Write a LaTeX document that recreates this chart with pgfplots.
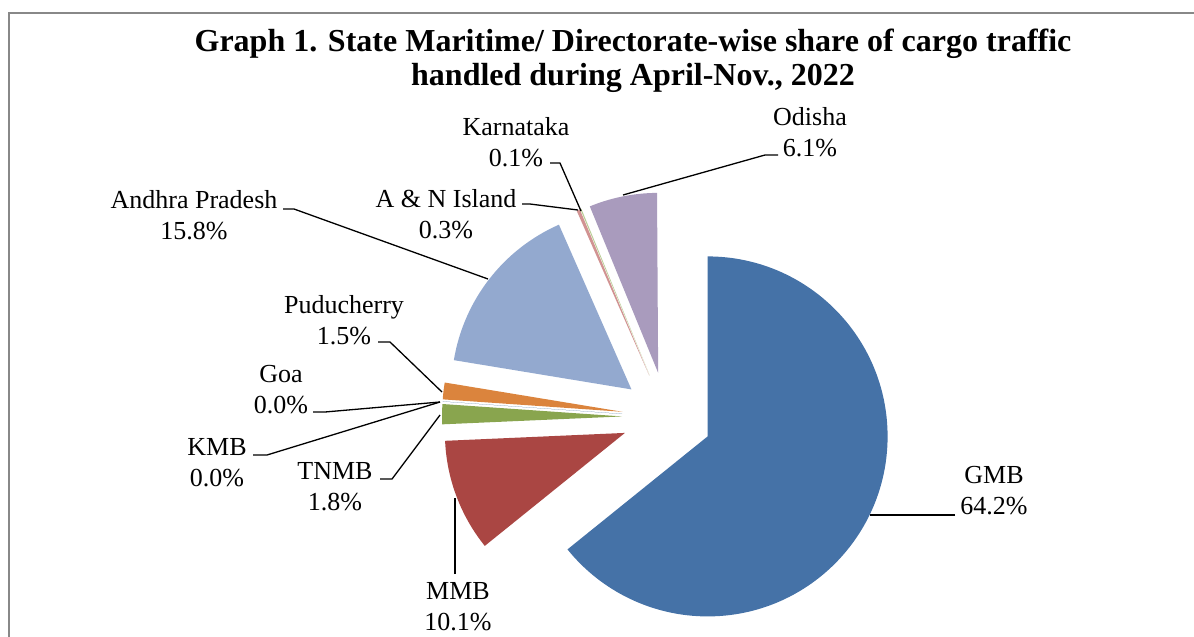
\documentclass[border=0pt]{standalone}
\usepackage{pgfplots}
\pgfplotsset{compat=1.18}
\usepackage{fontspec}
\setmainfont{Liberation Serif}
\definecolor{cGMB}{HTML}{4572A7}
\definecolor{cMMB}{HTML}{AA4643}
\definecolor{cTNMB}{HTML}{89A54E}
\definecolor{cKMB}{HTML}{71588F}
\definecolor{cGoa}{HTML}{4198AF}
\definecolor{cPud}{HTML}{DB843D}
\definecolor{cAP}{HTML}{93A9CF}
\definecolor{cAN}{HTML}{D19392}
\definecolor{cKar}{HTML}{B9CD96}
\definecolor{cOd}{HTML}{A99BBD}
\definecolor{frame}{HTML}{888888}
\begin{document}
\begin{tikzpicture}
\clip (0,0) rectangle (1194pt,637pt);
\begin{axis}[at={(0pt,0pt)}, anchor=south west, x=1pt, y=1pt,
  xmin=0, xmax=1194, ymin=0, ymax=637, y dir=reverse,
  hide axis, clip=false]
\draw[color=frame, line width=2pt] (9,13) rectangle (1230,680);
\xdef\cum{90}
\foreach \v/\col in {64.2/cGMB, 10.1/cMMB, 1.8/cTNMB, 0.0/cKMB, 0.0/cGoa, 1.5/cPud, 15.8/cAP, 0.3/cAN, 0.1/cKar, 6.1/cOd} {
  \pgfmathsetmacro\a{\cum}
  \pgfmathsetmacro\b{\cum-3.6*\v}
  \pgfmathsetmacro\m{(\a+\b)/2}
  \pgfmathsetmacro\px{667+45*cos(\m)}
  \pgfmathsetmacro\py{417-45*sin(\m)}
  \xdef\cum{\b}
  \edef\temp{\noexpand\fill[\col] (axis cs:\px,\py) -- ++(\a:180pt) arc[start angle=\a, end angle=\b, radius=180pt] -- cycle;}
  \temp
}
% leader lines
\draw[line width=1.3pt] (778,155) -- (765,155) -- (623,195);
\draw[line width=1.3pt] (550,163) -- (560,163) -- (581,211);
\draw[line width=1.3pt] (522,204) -- (530,204) -- (578,210);
\draw[line width=1.3pt] (283,209) -- (294,209) -- (488,279);
\draw[line width=1.3pt] (378,342) -- (390,342) -- (442,392);
\draw[line width=1.3pt] (313,412) -- (325,412) -- (440,402);
\draw[line width=1.3pt] (253,455) -- (267,455) -- (440,402);
\draw[line width=1.3pt] (380,479) -- (392,479) -- (440,415);
\draw[line width=1.3pt] (455,574) -- (455,498);
\draw[line width=1.3pt] (955,515) -- (870,515);
% labels
\tikzset{lab/.style={align=center, inner sep=0pt, font=\fontsize{26}{31}\selectfont}}
\node[lab] at (810,132) {Odisha\\6.1\%};
\node[lab] at (516,142) {Karnataka\\0.1\%};
\node[lab] at (446,214) {A \& N Island\\0.3\%};
\node[lab] at (194,215) {Andhra Pradesh\\15.8\%};
\node[lab] at (344,320) {Puducherry\\1.5\%};
\node[lab] at (281,390) {Goa\\0.0\%};
\node[lab] at (217,463) {KMB\\0.0\%};
\node[lab] at (335,487) {TNMB\\1.8\%};
\node[lab] at (458,607) {MMB\\10.1\%};
\node[lab] at (994,491) {GMB\\64.2\%};
% title
\node[inner sep=0pt, font=\fontsize{32}{34}\selectfont\bfseries] at (633,44) {Graph 1. State Maritime/ Directorate-wise share of cargo traffic};
\node[inner sep=0pt, font=\fontsize{32}{34}\selectfont\bfseries] at (633,78) {handled during April-Nov., 2022};
\end{axis}
\end{tikzpicture}
\end{document}
